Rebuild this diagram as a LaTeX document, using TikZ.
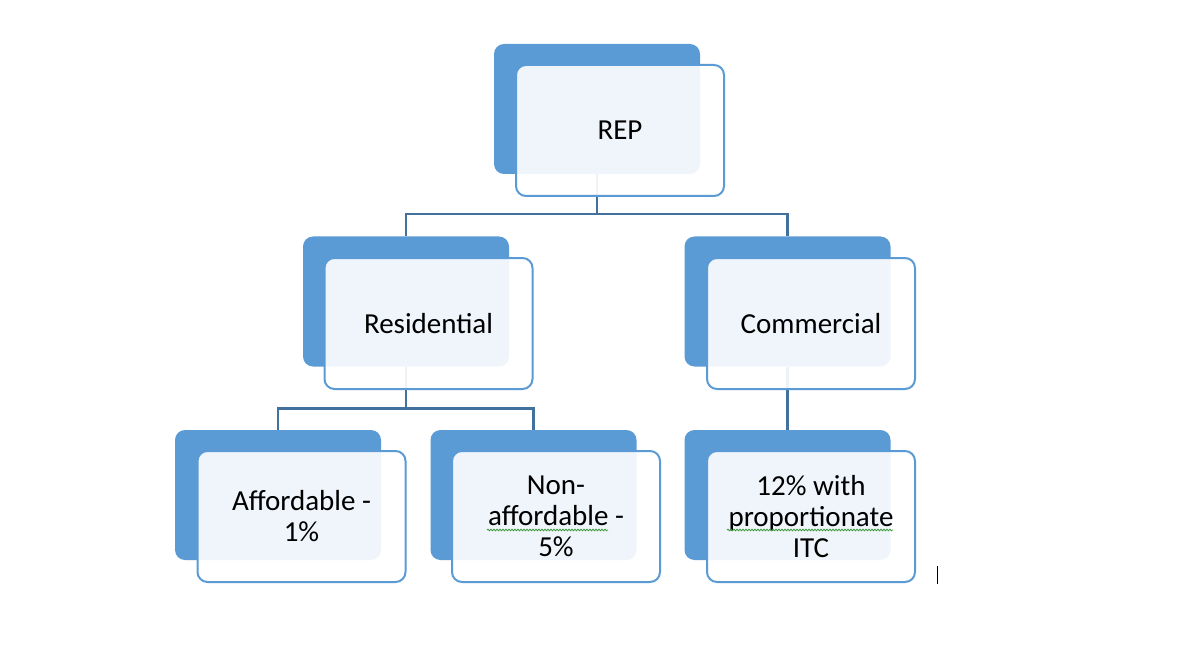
\documentclass[tikz,border=0pt]{standalone}
\usepackage{fontspec}
\setmainfont{Carlito}
\usetikzlibrary{decorations.pathmorphing}
\definecolor{boxblue}{HTML}{5B9BD5}
\definecolor{linkblue}{HTML}{41719C}
\definecolor{spellgreen}{HTML}{3A9A3A}
\begin{document}
\begin{tikzpicture}[x=1pt,y=-1pt,
  backbox/.style={fill=boxblue, draw=none, rounded corners=10pt, minimum width=206pt, minimum height=130pt, inner sep=0pt},
  frontbox/.style={fill=white, fill opacity=0.91, text opacity=1, draw=boxblue, line width=2pt, rounded corners=10pt, minimum width=208pt, minimum height=131pt, inner sep=0pt, align=center, font=\fontsize{29}{31}\selectfont},
  link/.style={draw=linkblue, line width=2.5pt},
  wavy/.style={draw=spellgreen, line width=0.8pt, decorate, decoration={snake, amplitude=0.8pt, segment length=3pt}}]
\path[fill=white] (0,0) rectangle (1186,663);
\useasboundingbox (0,0) rectangle (1186,663);
% back boxes
\node[backbox] (repB) at (597,109) {};
\node[backbox] (resB) at (406,301.5) {};
\node[backbox] (comB) at (787.5,301.5) {};
\node[backbox] (affB) at (278,495) {};
\node[backbox] (nonB) at (533.5,495) {};
\node[backbox] (itcB) at (787.5,495) {};
% connectors
\draw[link] (repB.south) -- ++(0,40) coordinate (j1);
\draw[link] (j1) -| (resB.north);
\draw[link] (j1) -| (comB.north);
\draw[link] (resB.south) -- ++(0,42) coordinate (j2);
\draw[link] (j2) -| (affB.north);
\draw[link] (j2) -| (nonB.north);
\draw[link] (comB.south) -- (itcB.north);
% front boxes
\node[frontbox] (rep) at (620,130.5) {REP};
\node[frontbox] (res) at (428.5,323.5) {Residential};
\node[frontbox] (com) at (811,323.5) {Commercial};
\node[frontbox] (aff) at (301.5,516.5) {Affordable -\\1\%};
\node[frontbox] (non) at (556,516.5) {Non-\\affordable -\\5\%};
\node[frontbox] (itc) at (811,516.5) {12\% with\\proportionate\\ITC};
% spell-check underlines
\draw[wavy] (487,530) -- (608,530);
\draw[wavy] (727,530) -- (893,530);
% text cursor
\draw[black, line width=1pt] (937,566) -- (937,584);
\end{tikzpicture}
\end{document}
